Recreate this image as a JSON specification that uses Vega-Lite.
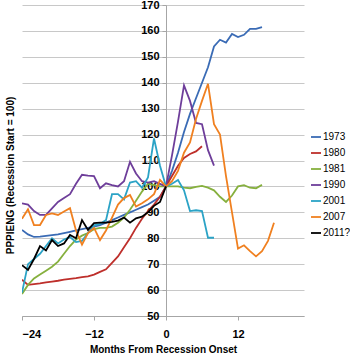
{
  "$schema": "https://vega.github.io/schema/vega-lite/v6.json",
  "autosize": {"type": "none"},
  "padding": {"left": 22, "top": 5, "right": 46, "bottom": 42},
  "width": 282,
  "height": 311,
  "background": "white",
  "config": {
    "view": {"stroke": null},
    "font": "Liberation Sans"
  },
  "data": {"values": [
    {"s":"1973","m":-24,"v":83.2},{"s":"1973","m":-23,"v":81.5},{"s":"1973","m":-22,"v":80.5},{"s":"1973","m":-21,"v":80.6},{"s":"1973","m":-20,"v":80.9},{"s":"1973","m":-19,"v":81.2},{"s":"1973","m":-18,"v":81.5},{"s":"1973","m":-17,"v":82},{"s":"1973","m":-16,"v":82.5},{"s":"1973","m":-15,"v":83},{"s":"1973","m":-14,"v":83.5},{"s":"1973","m":-13,"v":84},{"s":"1973","m":-12,"v":84.5},{"s":"1973","m":-11,"v":85.1},{"s":"1973","m":-10,"v":86},{"s":"1973","m":-9,"v":87},{"s":"1973","m":-8,"v":88},{"s":"1973","m":-7,"v":89},{"s":"1973","m":-6,"v":90},{"s":"1973","m":-5,"v":91},{"s":"1973","m":-4,"v":92},{"s":"1973","m":-3,"v":93},{"s":"1973","m":-2,"v":94.5},{"s":"1973","m":-1,"v":96},{"s":"1973","m":0,"v":100},{"s":"1973","m":1,"v":106},{"s":"1973","m":2,"v":113},{"s":"1973","m":3,"v":121},{"s":"1973","m":4,"v":128},{"s":"1973","m":5,"v":134},{"s":"1973","m":6,"v":140},{"s":"1973","m":7,"v":146},{"s":"1973","m":8,"v":154},{"s":"1973","m":9,"v":156.6},{"s":"1973","m":10,"v":155.5},{"s":"1973","m":11,"v":158.8},{"s":"1973","m":12,"v":157.6},{"s":"1973","m":13,"v":158.5},{"s":"1973","m":14,"v":160.8},{"s":"1973","m":15,"v":160.8},{"s":"1973","m":16,"v":161.5},
    {"s":"1980","m":-24,"v":64},{"s":"1980","m":-23,"v":62},{"s":"1980","m":-22,"v":62.3},{"s":"1980","m":-21,"v":62.6},{"s":"1980","m":-20,"v":63},{"s":"1980","m":-19,"v":63.3},{"s":"1980","m":-18,"v":63.6},{"s":"1980","m":-17,"v":64},{"s":"1980","m":-16,"v":64.3},{"s":"1980","m":-15,"v":64.6},{"s":"1980","m":-14,"v":65},{"s":"1980","m":-13,"v":65.3},{"s":"1980","m":-12,"v":66},{"s":"1980","m":-11,"v":67},{"s":"1980","m":-10,"v":68},{"s":"1980","m":-9,"v":70.5},{"s":"1980","m":-8,"v":73},{"s":"1980","m":-7,"v":76.5},{"s":"1980","m":-6,"v":80},{"s":"1980","m":-5,"v":84},{"s":"1980","m":-4,"v":87.5},{"s":"1980","m":-3,"v":90.5},{"s":"1980","m":-2,"v":93},{"s":"1980","m":-1,"v":96},{"s":"1980","m":0,"v":100},{"s":"1980","m":1,"v":104},{"s":"1980","m":2,"v":108},{"s":"1980","m":3,"v":111},{"s":"1980","m":4,"v":112.5},{"s":"1980","m":5,"v":113.5},{"s":"1980","m":6,"v":115.5},
    {"s":"1981","m":-24,"v":58.5},{"s":"1981","m":-23,"v":62},{"s":"1981","m":-22,"v":64.5},{"s":"1981","m":-21,"v":66},{"s":"1981","m":-20,"v":67.5},{"s":"1981","m":-19,"v":69},{"s":"1981","m":-18,"v":71},{"s":"1981","m":-17,"v":74},{"s":"1981","m":-16,"v":77},{"s":"1981","m":-15,"v":79.5},{"s":"1981","m":-14,"v":81},{"s":"1981","m":-13,"v":82},{"s":"1981","m":-12,"v":83.5},{"s":"1981","m":-11,"v":84},{"s":"1981","m":-10,"v":84},{"s":"1981","m":-9,"v":84.5},{"s":"1981","m":-8,"v":86},{"s":"1981","m":-7,"v":88},{"s":"1981","m":-6,"v":91},{"s":"1981","m":-5,"v":94.5},{"s":"1981","m":-4,"v":98},{"s":"1981","m":-3,"v":101},{"s":"1981","m":-2,"v":100.5},{"s":"1981","m":-1,"v":100},{"s":"1981","m":0,"v":100},{"s":"1981","m":1,"v":100},{"s":"1981","m":2,"v":100},{"s":"1981","m":3,"v":99.5},{"s":"1981","m":4,"v":99.3},{"s":"1981","m":5,"v":99.8},{"s":"1981","m":6,"v":100.2},{"s":"1981","m":7,"v":99.5},{"s":"1981","m":8,"v":98.5},{"s":"1981","m":9,"v":96},{"s":"1981","m":10,"v":94},{"s":"1981","m":11,"v":96.5},{"s":"1981","m":12,"v":100},{"s":"1981","m":13,"v":100.5},{"s":"1981","m":14,"v":99.5},{"s":"1981","m":15,"v":99.3},{"s":"1981","m":16,"v":100.6},
    {"s":"1990","m":-24,"v":93.5},{"s":"1990","m":-23,"v":93},{"s":"1990","m":-22,"v":90.5},{"s":"1990","m":-21,"v":89},{"s":"1990","m":-20,"v":89},{"s":"1990","m":-19,"v":91.5},{"s":"1990","m":-18,"v":94},{"s":"1990","m":-17,"v":95.5},{"s":"1990","m":-16,"v":97},{"s":"1990","m":-15,"v":101},{"s":"1990","m":-14,"v":104.5},{"s":"1990","m":-13,"v":104.2},{"s":"1990","m":-12,"v":104},{"s":"1990","m":-11,"v":99.3},{"s":"1990","m":-10,"v":101.2},{"s":"1990","m":-9,"v":100.5},{"s":"1990","m":-8,"v":100},{"s":"1990","m":-7,"v":102},{"s":"1990","m":-6,"v":109.5},{"s":"1990","m":-5,"v":105},{"s":"1990","m":-4,"v":102},{"s":"1990","m":-3,"v":101.5},{"s":"1990","m":-2,"v":102},{"s":"1990","m":-1,"v":101},{"s":"1990","m":0,"v":100},{"s":"1990","m":1,"v":112},{"s":"1990","m":2,"v":125},{"s":"1990","m":3,"v":139},{"s":"1990","m":4,"v":133},{"s":"1990","m":5,"v":124.5},{"s":"1990","m":6,"v":124},{"s":"1990","m":7,"v":114},{"s":"1990","m":8,"v":108},
    {"s":"2001","m":-24,"v":59},{"s":"2001","m":-23,"v":70},{"s":"2001","m":-22,"v":72},{"s":"2001","m":-21,"v":74},{"s":"2001","m":-20,"v":77},{"s":"2001","m":-19,"v":80},{"s":"2001","m":-18,"v":78},{"s":"2001","m":-17,"v":79.5},{"s":"2001","m":-16,"v":80.5},{"s":"2001","m":-15,"v":78.5},{"s":"2001","m":-14,"v":79},{"s":"2001","m":-13,"v":82},{"s":"2001","m":-12,"v":85},{"s":"2001","m":-11,"v":85.5},{"s":"2001","m":-10,"v":87},{"s":"2001","m":-9,"v":97},{"s":"2001","m":-8,"v":97},{"s":"2001","m":-7,"v":95},{"s":"2001","m":-6,"v":101.5},{"s":"2001","m":-5,"v":102},{"s":"2001","m":-4,"v":99.5},{"s":"2001","m":-3,"v":103.5},{"s":"2001","m":-2,"v":118.5},{"s":"2001","m":-1,"v":108},{"s":"2001","m":0,"v":100},{"s":"2001","m":1,"v":101},{"s":"2001","m":2,"v":102.5},{"s":"2001","m":3,"v":98.5},{"s":"2001","m":4,"v":90.5},{"s":"2001","m":5,"v":90.8},{"s":"2001","m":6,"v":90.5},{"s":"2001","m":7,"v":80.2},{"s":"2001","m":8,"v":80.2},
    {"s":"2007","m":-24,"v":87.5},{"s":"2007","m":-23,"v":91.2},{"s":"2007","m":-22,"v":85.1},{"s":"2007","m":-21,"v":85.1},{"s":"2007","m":-20,"v":89},{"s":"2007","m":-19,"v":89.6},{"s":"2007","m":-18,"v":89},{"s":"2007","m":-17,"v":90.3},{"s":"2007","m":-16,"v":91.6},{"s":"2007","m":-15,"v":83},{"s":"2007","m":-14,"v":77.5},{"s":"2007","m":-13,"v":82},{"s":"2007","m":-12,"v":84},{"s":"2007","m":-11,"v":79.3},{"s":"2007","m":-10,"v":83},{"s":"2007","m":-9,"v":88},{"s":"2007","m":-8,"v":93},{"s":"2007","m":-7,"v":95.5},{"s":"2007","m":-6,"v":96.7},{"s":"2007","m":-5,"v":92.2},{"s":"2007","m":-4,"v":93.5},{"s":"2007","m":-3,"v":95},{"s":"2007","m":-2,"v":97},{"s":"2007","m":-1,"v":102.5},{"s":"2007","m":0,"v":100},{"s":"2007","m":1,"v":102},{"s":"2007","m":2,"v":106},{"s":"2007","m":3,"v":113},{"s":"2007","m":4,"v":117},{"s":"2007","m":5,"v":126},{"s":"2007","m":6,"v":133},{"s":"2007","m":7,"v":139.6},{"s":"2007","m":8,"v":124},{"s":"2007","m":9,"v":120},{"s":"2007","m":10,"v":104},{"s":"2007","m":11,"v":90},{"s":"2007","m":12,"v":76},{"s":"2007","m":13,"v":77.3},{"s":"2007","m":14,"v":75},{"s":"2007","m":15,"v":73},{"s":"2007","m":16,"v":75},{"s":"2007","m":17,"v":79},{"s":"2007","m":18,"v":86},
    {"s":"2011?","m":-24,"v":69.6},{"s":"2011?","m":-23,"v":67.8},{"s":"2011?","m":-22,"v":72},{"s":"2011?","m":-21,"v":77},{"s":"2011?","m":-20,"v":75.3},{"s":"2011?","m":-19,"v":79.3},{"s":"2011?","m":-18,"v":77},{"s":"2011?","m":-17,"v":78},{"s":"2011?","m":-16,"v":81.3},{"s":"2011?","m":-15,"v":80},{"s":"2011?","m":-14,"v":87},{"s":"2011?","m":-13,"v":83.2},{"s":"2011?","m":-12,"v":85.8},{"s":"2011?","m":-11,"v":86},{"s":"2011?","m":-10,"v":86},{"s":"2011?","m":-9,"v":86.3},{"s":"2011?","m":-8,"v":86.8},{"s":"2011?","m":-7,"v":88},{"s":"2011?","m":-6,"v":86},{"s":"2011?","m":-5,"v":87.7},{"s":"2011?","m":-4,"v":88.3},{"s":"2011?","m":-3,"v":90},{"s":"2011?","m":-2,"v":92.5},{"s":"2011?","m":-1,"v":94},{"s":"2011?","m":0,"v":100}
  ]},
  "mark": {"type": "line", "clip": true},
  "encoding": {
    "x": {
      "field": "m", "type": "quantitative",
      "scale": {"domain": [-24, 23], "nice": false, "zero": false},
      "axis": {
        "values": [-24, -12, 0, 12],
        "grid": false,
        "title": "Months From Recession Onset",
        "titleFont": "Liberation Sans", "titleFontSize": 10, "titleFontWeight": "bold", "titleColor": "#000",
        "titlePadding": 5,
        "labelFont": "Liberation Sans", "labelFontSize": 11, "labelFontWeight": "bold", "labelColor": "#000",
        "labelPadding": 8,
        "domainColor": "#a6a6a6",
        "tickColor": "#a6a6a6", "tickSize": 4, "tickOffset": 0
      }
    },
    "y": {
      "field": "v", "type": "quantitative",
      "scale": {"domain": [50, 170], "nice": false, "zero": false},
      "axis": {
        "values": [50, 60, 70, 80, 90, 100, 110, 120, 130, 140, 150, 160, 170],
        "offset": -144,
        "grid": true,
        "gridColor": "#c8c8c8",
        "domainColor": "#a6a6a6",
        "tickColor": "#a6a6a6", "tickSize": 4,
        "labelFont": "Liberation Sans", "labelFontSize": 11, "labelFontWeight": "bold", "labelColor": "#000",
        "labelPadding": 3,
        "title": "PPPIENG (Recession Start = 100)",
        "titleFont": "Liberation Sans", "titleFontSize": 10, "titleFontWeight": "bold", "titleColor": "#000",
        "titleAngle": -90, "titleX": -156, "titleY": 170, "titleAlign": "center", "titleBaseline": "middle"
      }
    },
    "color": {
      "field": "s", "type": "nominal",
      "scale": {
        "domain": ["1973", "1980", "1981", "1990", "2001", "2007", "2011?"],
        "range": ["#3A6BB5", "#BE2F2B", "#86B03E", "#6E3E9A", "#2BA3C6", "#F08020", "#000000"]
      },
      "legend": {
        "title": null, "orient": "none", "legendX": 288, "legendY": 126,
        "symbolType": "stroke", "symbolSize": 100, "symbolStrokeWidth": 2,
        "rowPadding": 5, "labelOffset": 1,
        "labelFont": "Liberation Sans", "labelFontSize": 10, "labelColor": "#000"
      }
    },
    "strokeWidth": {
      "field": "s", "type": "nominal",
      "scale": {
        "domain": ["1973", "1980", "1981", "1990", "2001", "2007", "2011?"],
        "range": [1.8, 1.8, 1.8, 1.8, 1.8, 1.8, 3]
      },
      "legend": null
    }
  }
}
